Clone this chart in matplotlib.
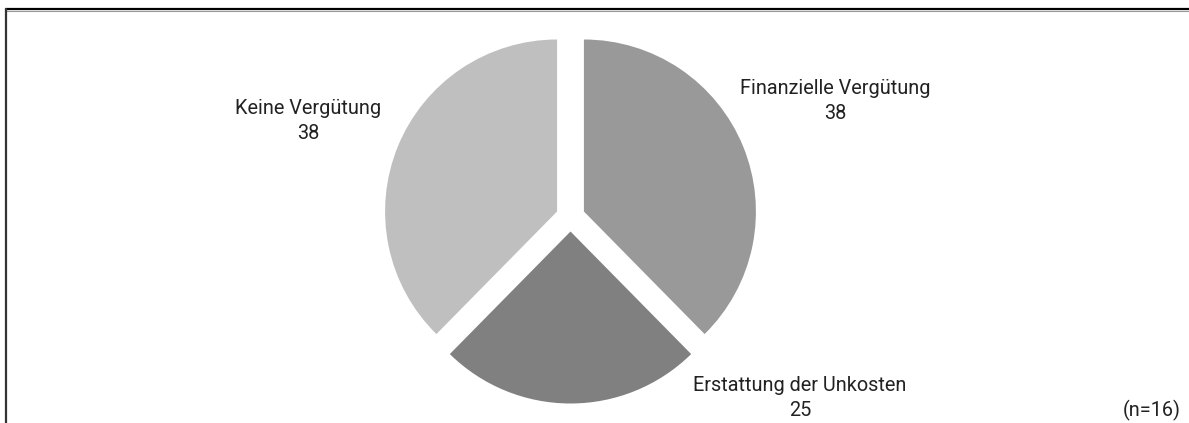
import numpy as np
import matplotlib
matplotlib.use('Agg')
import matplotlib.pyplot as plt

# ─── Data (percent shares, n=16)
categories = ['Finanzielle Vergütung', 'Erstattung der Unkosten', 'Keine Vergütung']
shares = [38, 25, 38]
colors = ['#999999', '#808080', '#bfbfbf']
n_total = 16

plt.rcParams['font.family'] = ['Roboto', 'DejaVu Sans']

W, H = 1189, 423
fig = plt.figure(figsize=(W / 100, H / 100), dpi=100)
ax = fig.add_axes([0, 0, 1, 1])

# ─── Pie, exploded, clockwise from 12 o'clock (axes in pixel units)
radius = 172
ax.pie(shares, colors=colors, startangle=90, counterclock=False,
       radius=radius, center=(570.5, H - 217),
       explode=[14.5] * len(shares),
       wedgeprops=dict(linewidth=0))
ax.set_xlim(0, W)
ax.set_ylim(0, H)
ax.set_aspect('equal')
ax.axis('off')

# ─── Labels
label_pos = [(835, H - 101), (800, H - 398), (308, H - 121)]
for cat, val, (x, y) in zip(categories, shares, label_pos):
    ax.text(x, y, f"{cat}\n{val}", ha='center', va='center',
            fontsize=14.3, color='#222222', linespacing=1.35)

ax.text(1181, H - 410, f"(n={n_total})", ha='right', va='center',
        fontsize=14.3, color='#222222')

# ─── Frame lines (top and left)
ax.plot([5, W], [H - 8.5, H - 8.5], color='black', lw=1.6, solid_capstyle='butt')
ax.plot([5, W], [H - 10.5, H - 10.5], color='#999999', lw=0.8, solid_capstyle='butt')
ax.plot([5.5, 5.5], [0, H - 8], color='#333333', lw=1.6, solid_capstyle='butt')

fig.savefig('out.png', dpi=100)
plt.close(fig)
